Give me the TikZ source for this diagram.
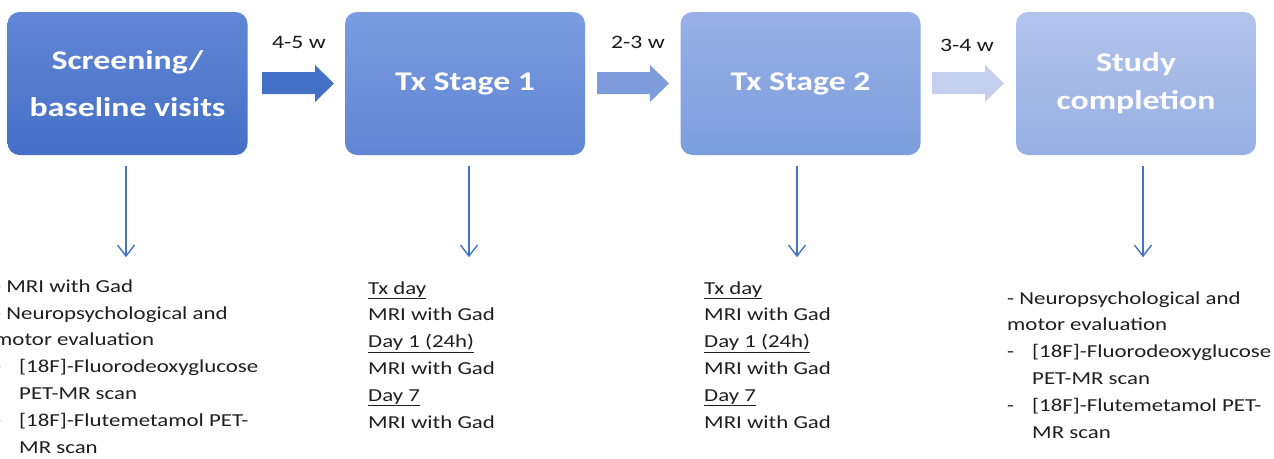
\documentclass[tikz,border=0pt]{standalone}
\usepackage{fontspec}
\setmainfont{Carlito}[FakeStretch=1.25]
\usetikzlibrary{arrows.meta}

\definecolor{stageAtop}{RGB}{98,134,214}
\definecolor{stageAbot}{RGB}{68,112,198}
\definecolor{stageBtop}{RGB}{122,155,224}
\definecolor{stageBbot}{RGB}{96,134,212}
\definecolor{stageCtop}{RGB}{152,176,230}
\definecolor{stageCbot}{RGB}{124,157,220}
\definecolor{stageDtop}{RGB}{178,196,236}
\definecolor{stageDbot}{RGB}{151,175,227}
\definecolor{gapA}{RGB}{68,112,198}
\definecolor{gapB}{RGB}{126,156,220}
\definecolor{gapC}{RGB}{196,208,238}
\definecolor{linkblue}{RGB}{68,114,196}

\tikzset{
  stagebox/.style={rounded corners=12pt, minimum width=240pt, minimum height=143pt,
    inner sep=0pt, align=center, text=white, font=\bfseries\fontsize{27}{38}\selectfont},
  notes/.style={anchor=base west, align=left, inner sep=0pt, text=black!88,
    font=\fontsize{18.3}{26.8}\selectfont},
  gaplabel/.style={inner sep=0pt, text=black!90, font=\fontsize{19}{22}\selectfont},
  conn/.style={draw=linkblue, line width=1.4pt, -{Straight Barb[length=11pt,width=17pt]}},
}

\begin{document}
\begin{tikzpicture}[x=1pt, y=-1pt]
  \useasboundingbox (0,0) rectangle (1274,458);
  \clip (0,0) rectangle (1274,458);
  \fill[white] (0,0) rectangle (1274,458);

  % stages
  \node[stagebox, top color=stageAtop, bottom color=stageAbot] (screen) at (127.5,83.5)
    {Screening/\\[9pt]baseline visits};
  \node[stagebox, top color=stageBtop, bottom color=stageBbot] (stageone) at (465,83.5) {Tx Stage 1};
  \node[stagebox, top color=stageCtop, bottom color=stageCbot] (stagetwo) at (800.5,83.5) {Tx Stage 2};
  \node[stagebox, top color=stageDtop, bottom color=stageDbot] (finish) at (1136,83.5)
    {Study\\completion};

  % gaps between stages
  \foreach \x/\c in {262/gapA, 597/gapB, 932/gapC}
    \fill[\c] (\x,72) -- (\x+53,72) -- (\x+53,65) -- (\x+72,83.5)
      -- (\x+53,102) -- (\x+53,94) -- (\x,94) -- cycle;
  \node[gaplabel] (gapone) at (299,42) {4-5 w};
  \node[gaplabel] (gaptwo) at (638,42) {2-3 w};
  \node[gaplabel] (gapthree) at (967,45) {3-4 w};

  % what happens at each stage (placed at the last baseline)
  \node[notes] (screennotes) at (-6,453) {- MRI with Gad\\
    - Neuropsychological and\\
    motor evaluation\\
    \makebox[25pt][l]{-}[18F]-Fluorodeoxyglucose\\
    \hspace*{25pt}PET-MR scan\\
    \makebox[25pt][l]{-}[18F]-Flutemetamol PET-\\
    \hspace*{25pt}MR scan};
  \node[notes] (onenotes) at (368,428) {\underline{Tx day}\\
    MRI with Gad\\
    \underline{Day 1 (24h)}\\
    MRI with Gad\\
    \underline{Day 7}\\
    MRI with Gad};
  \node[notes] (twonotes) at (704,428) {\underline{Tx day}\\
    MRI with Gad\\
    \underline{Day 1 (24h)}\\
    MRI with Gad\\
    \underline{Day 7}\\
    MRI with Gad};
  \node[notes] (finishnotes) at (1007,438) {- Neuropsychological and\\
    motor evaluation\\
    \makebox[25pt][l]{-}[18F]-Fluorodeoxyglucose\\
    \hspace*{25pt}PET-MR scan\\
    \makebox[25pt][l]{-}[18F]-Flutemetamol PET-\\
    \hspace*{25pt}MR scan};

  % arrows down to the notes
  \coordinate (screenend) at ([xshift=-1.5pt, yshift=-102pt]screen.south);
  \coordinate (oneend) at ([xshift=4pt, yshift=-102pt]stageone.south);
  \coordinate (twoend) at ([xshift=-3.5pt, yshift=-102pt]stagetwo.south);
  \coordinate (finishend) at ([xshift=7pt, yshift=-102pt]finish.south);
  \draw[conn] ([yshift=-11pt]screen.south -| screenend) -- (screenend);
  \draw[conn] ([yshift=-11pt]stageone.south -| oneend) -- (oneend);
  \draw[conn] ([yshift=-11pt]stagetwo.south -| twoend) -- (twoend);
  \draw[conn] ([yshift=-11pt]finish.south -| finishend) -- (finishend);
\end{tikzpicture}
\end{document}
